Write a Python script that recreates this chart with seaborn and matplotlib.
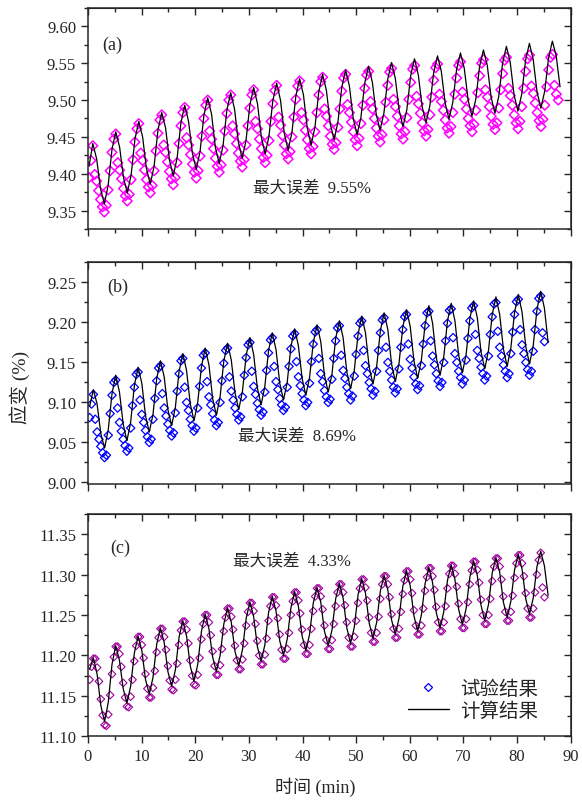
import numpy as np
import matplotlib
matplotlib.use("Agg")
import matplotlib.pyplot as plt
from matplotlib.lines import Line2D
from matplotlib.ticker import MultipleLocator, FormatStrFormatter
import seaborn as sns

# ---- datos (tiempo en min, deformacion en %) ----
# muestreo uniforme: t = t0 + paso * i
a_line_t0, a_line_dt = 0.186, 0.714
a_pts_t0, a_pts_dt = 0.186, 0.3571
bc_line_t0, bc_line_dt = 0.305, 0.695
bc_pts_t0, bc_pts_dt = 0.305, 0.3475

# (a) calculo
a_calc = [9.410,
    9.441, 9.420, 9.380, 9.359, 9.384, 9.433,
    9.457, 9.436, 9.395, 9.374, 9.398, 9.447,
    9.471, 9.450, 9.407, 9.386, 9.410, 9.459,
    9.483, 9.462, 9.419, 9.397, 9.421, 9.469,
    9.493, 9.471, 9.428, 9.406, 9.430, 9.479,
    9.503, 9.481, 9.436, 9.414, 9.438, 9.486,
    9.510, 9.488, 9.443, 9.421, 9.445, 9.493,
    9.517, 9.495, 9.450, 9.427, 9.451, 9.499,
    9.523, 9.500, 9.455, 9.432, 9.456, 9.505,
    9.529, 9.507, 9.462, 9.439, 9.463, 9.511,
    9.535, 9.513, 9.468, 9.446, 9.470, 9.517,
    9.541, 9.519, 9.475, 9.453, 9.476, 9.523,
    9.546, 9.524, 9.481, 9.459, 9.482, 9.528,
    9.551, 9.529, 9.486, 9.464, 9.487, 9.533,
    9.556, 9.534, 9.491, 9.469, 9.492, 9.537,
    9.560, 9.539, 9.496, 9.474, 9.497, 9.542,
    9.564, 9.543, 9.500, 9.478, 9.501, 9.546,
    9.568, 9.547, 9.504, 9.482, 9.505, 9.550,
    9.573, 9.551, 9.507, 9.485, 9.508, 9.554,
    9.577, 9.555, 9.511, 9.489, 9.512, 9.557,
    9.580, 9.560, 9.518]

# (a) ensayo
a_test = [9.395, 9.418,
    9.438, 9.399, 9.390, 9.377, 9.365, 9.355, 9.348, 9.357, 9.378, 9.404, 9.429, 9.447,
    9.454, 9.415, 9.405, 9.393, 9.380, 9.370, 9.363, 9.372, 9.392, 9.419, 9.443, 9.461,
    9.468, 9.428, 9.418, 9.405, 9.392, 9.382, 9.374, 9.384, 9.404, 9.431, 9.455, 9.473,
    9.480, 9.439, 9.429, 9.416, 9.403, 9.393, 9.385, 9.395, 9.415, 9.441, 9.465, 9.483,
    9.490, 9.449, 9.439, 9.426, 9.413, 9.402, 9.394, 9.404, 9.424, 9.451, 9.475, 9.493,
    9.500, 9.458, 9.447, 9.434, 9.421, 9.410, 9.402, 9.412, 9.432, 9.458, 9.482, 9.500,
    9.507, 9.465, 9.454, 9.441, 9.428, 9.417, 9.409, 9.419, 9.439, 9.465, 9.489, 9.507,
    9.514, 9.471, 9.461, 9.447, 9.434, 9.422, 9.415, 9.425, 9.445, 9.471, 9.495, 9.513,
    9.520, 9.477, 9.466, 9.452, 9.439, 9.427, 9.420, 9.430, 9.450, 9.477, 9.501, 9.519,
    9.526, 9.483, 9.473, 9.459, 9.446, 9.434, 9.427, 9.437, 9.457, 9.483, 9.507, 9.525,
    9.531, 9.488, 9.478, 9.465, 9.451, 9.440, 9.433, 9.442, 9.463, 9.488, 9.512, 9.530,
    9.535, 9.494, 9.483, 9.470, 9.457, 9.446, 9.438, 9.448, 9.468, 9.493, 9.516, 9.534,
    9.539, 9.498, 9.488, 9.475, 9.462, 9.451, 9.443, 9.453, 9.473, 9.497, 9.520, 9.538,
    9.543, 9.501, 9.491, 9.478, 9.465, 9.454, 9.447, 9.457, 9.476, 9.501, 9.524, 9.542,
    9.547, 9.505, 9.495, 9.482, 9.469, 9.458, 9.451, 9.460, 9.480, 9.504, 9.527, 9.544,
    9.549, 9.508, 9.498, 9.486, 9.473, 9.462, 9.455, 9.464, 9.483, 9.508, 9.530, 9.547,
    9.552, 9.511, 9.501, 9.488, 9.475, 9.465, 9.457, 9.467, 9.486, 9.510, 9.533, 9.550,
    9.555, 9.514, 9.504, 9.491, 9.478, 9.467, 9.460, 9.469, 9.489, 9.514, 9.536, 9.554,
    9.558, 9.516, 9.506, 9.493, 9.480, 9.469, 9.461, 9.471, 9.491, 9.516, 9.539, 9.556,
    9.561, 9.519, 9.509, 9.496, 9.483, 9.472, 9.464, 9.474, 9.493, 9.518, 9.541, 9.558,
    9.562, 9.520, 9.508, 9.500]

# (b) calculo
b_calc = [9.094,
    9.115, 9.097, 9.060, 9.042, 9.065, 9.110,
    9.133, 9.112, 9.072, 9.051, 9.074, 9.120,
    9.143, 9.123, 9.082, 9.062, 9.084, 9.129,
    9.151, 9.131, 9.090, 9.070, 9.093, 9.138,
    9.160, 9.139, 9.097, 9.076, 9.099, 9.144,
    9.167, 9.146, 9.104, 9.083, 9.106, 9.151,
    9.173, 9.152, 9.111, 9.090, 9.113, 9.158,
    9.180, 9.159, 9.117, 9.096, 9.119, 9.164,
    9.186, 9.165, 9.123, 9.102, 9.124, 9.169,
    9.191, 9.170, 9.129, 9.108, 9.130, 9.174,
    9.196, 9.175, 9.133, 9.112, 9.134, 9.179,
    9.201, 9.180, 9.137, 9.116, 9.139, 9.184,
    9.207, 9.186, 9.143, 9.122, 9.144, 9.189,
    9.211, 9.190, 9.147, 9.125, 9.148, 9.193,
    9.215, 9.194, 9.151, 9.129, 9.152, 9.197,
    9.220, 9.198, 9.155, 9.133, 9.156, 9.201,
    9.223, 9.201, 9.158, 9.136, 9.159, 9.204,
    9.226, 9.205, 9.162, 9.141, 9.164, 9.209,
    9.231, 9.209, 9.166, 9.144, 9.167, 9.212,
    9.234, 9.212, 9.169, 9.147, 9.170, 9.215,
    9.238, 9.217, 9.174]

# (b) ensayo
b_test = [9.080, 9.097,
    9.109, 9.078, 9.062, 9.053, 9.044, 9.036, 9.030, 9.033, 9.058, 9.085, 9.108, 9.124,
    9.127, 9.092, 9.074, 9.063, 9.053, 9.045, 9.038, 9.042, 9.067, 9.095, 9.118, 9.134,
    9.137, 9.102, 9.084, 9.074, 9.064, 9.056, 9.049, 9.053, 9.078, 9.104, 9.126, 9.142,
    9.145, 9.110, 9.092, 9.082, 9.072, 9.064, 9.057, 9.061, 9.086, 9.113, 9.135, 9.151,
    9.154, 9.118, 9.099, 9.089, 9.078, 9.070, 9.063, 9.067, 9.092, 9.119, 9.142, 9.158,
    9.161, 9.125, 9.106, 9.096, 9.085, 9.077, 9.070, 9.074, 9.099, 9.126, 9.148, 9.164,
    9.167, 9.131, 9.113, 9.102, 9.092, 9.084, 9.077, 9.081, 9.106, 9.133, 9.155, 9.171,
    9.174, 9.138, 9.119, 9.109, 9.098, 9.090, 9.083, 9.087, 9.112, 9.139, 9.161, 9.177,
    9.180, 9.144, 9.125, 9.115, 9.104, 9.096, 9.089, 9.093, 9.118, 9.144, 9.166, 9.182,
    9.185, 9.150, 9.131, 9.120, 9.110, 9.102, 9.095, 9.099, 9.123, 9.150, 9.172, 9.187,
    9.190, 9.154, 9.135, 9.125, 9.114, 9.106, 9.099, 9.103, 9.128, 9.154, 9.176, 9.192,
    9.195, 9.158, 9.139, 9.129, 9.118, 9.110, 9.102, 9.107, 9.132, 9.159, 9.182, 9.198,
    9.201, 9.164, 9.145, 9.135, 9.124, 9.116, 9.108, 9.113, 9.138, 9.164, 9.186, 9.202,
    9.205, 9.168, 9.149, 9.138, 9.127, 9.118, 9.111, 9.116, 9.141, 9.168, 9.190, 9.206,
    9.209, 9.172, 9.153, 9.142, 9.131, 9.122, 9.115, 9.120, 9.145, 9.172, 9.195, 9.211,
    9.213, 9.176, 9.157, 9.146, 9.135, 9.126, 9.119, 9.124, 9.149, 9.176, 9.198, 9.214,
    9.216, 9.180, 9.160, 9.149, 9.138, 9.130, 9.122, 9.127, 9.152, 9.179, 9.201, 9.217,
    9.220, 9.184, 9.164, 9.154, 9.143, 9.135, 9.127, 9.132, 9.157, 9.184, 9.206, 9.222,
    9.224, 9.188, 9.168, 9.157, 9.146, 9.138, 9.130, 9.135, 9.160, 9.187, 9.209, 9.225,
    9.228, 9.190, 9.171, 9.160, 9.149, 9.140, 9.133, 9.138, 9.163, 9.190, 9.213, 9.229,
    9.232, 9.186, 9.175]

# (c) calculo
c_calc = [11.183,
    11.197, 11.177, 11.138, 11.118, 11.142, 11.189,
    11.212, 11.194, 11.159, 11.141, 11.162, 11.203,
    11.224, 11.206, 11.170, 11.152, 11.173, 11.214,
    11.234, 11.216, 11.180, 11.162, 11.182, 11.223,
    11.243, 11.224, 11.187, 11.168, 11.189, 11.230,
    11.251, 11.233, 11.198, 11.180, 11.200, 11.239,
    11.259, 11.241, 11.205, 11.187, 11.207, 11.246,
    11.266, 11.248, 11.211, 11.193, 11.213, 11.253,
    11.273, 11.255, 11.218, 11.200, 11.220, 11.259,
    11.279, 11.261, 11.224, 11.206, 11.226, 11.265,
    11.284, 11.266, 11.230, 11.212, 11.231, 11.270,
    11.289, 11.271, 11.234, 11.215, 11.235, 11.275,
    11.295, 11.277, 11.240, 11.221, 11.241, 11.280,
    11.299, 11.281, 11.244, 11.226, 11.246, 11.285,
    11.305, 11.286, 11.249, 11.230, 11.250, 11.289,
    11.309, 11.290, 11.253, 11.234, 11.254, 11.293,
    11.312, 11.294, 11.257, 11.238, 11.258, 11.297,
    11.317, 11.299, 11.262, 11.243, 11.263, 11.302,
    11.321, 11.303, 11.266, 11.247, 11.267, 11.306,
    11.325, 11.307, 11.270, 11.251, 11.271, 11.310,
    11.329, 11.311, 11.274]

# (c) ensayo
c_test = [11.170, 11.186,
    11.196, 11.196, 11.185, 11.168, 11.146, 11.126, 11.114, 11.113, 11.127, 11.151, 11.177, 11.198,
    11.211, 11.211, 11.202, 11.186, 11.166, 11.148, 11.137, 11.136, 11.149, 11.170, 11.193, 11.212,
    11.223, 11.223, 11.213, 11.197, 11.177, 11.159, 11.148, 11.148, 11.160, 11.181, 11.204, 11.222,
    11.233, 11.233, 11.223, 11.207, 11.187, 11.169, 11.158, 11.157, 11.170, 11.190, 11.213, 11.231,
    11.242, 11.242, 11.232, 11.215, 11.194, 11.175, 11.164, 11.163, 11.176, 11.197, 11.220, 11.239,
    11.250, 11.250, 11.241, 11.225, 11.205, 11.187, 11.176, 11.176, 11.188, 11.208, 11.230, 11.247,
    11.258, 11.258, 11.248, 11.232, 11.212, 11.194, 11.183, 11.183, 11.195, 11.215, 11.237, 11.254,
    11.265, 11.265, 11.255, 11.239, 11.218, 11.200, 11.189, 11.189, 11.201, 11.221, 11.243, 11.261,
    11.272, 11.272, 11.262, 11.246, 11.226, 11.207, 11.196, 11.196, 11.208, 11.228, 11.250, 11.267,
    11.278, 11.278, 11.268, 11.252, 11.232, 11.213, 11.202, 11.202, 11.213, 11.233, 11.255, 11.273,
    11.283, 11.283, 11.273, 11.257, 11.237, 11.219, 11.208, 11.208, 11.219, 11.239, 11.261, 11.278,
    11.288, 11.288, 11.278, 11.262, 11.241, 11.222, 11.211, 11.211, 11.223, 11.243, 11.265, 11.283,
    11.294, 11.294, 11.284, 11.268, 11.247, 11.228, 11.217, 11.217, 11.228, 11.248, 11.270, 11.288,
    11.298, 11.298, 11.288, 11.272, 11.251, 11.233, 11.222, 11.222, 11.233, 11.254, 11.276, 11.293,
    11.304, 11.304, 11.294, 11.277, 11.256, 11.237, 11.226, 11.226, 11.237, 11.258, 11.280, 11.297,
    11.308, 11.308, 11.298, 11.281, 11.260, 11.241, 11.230, 11.230, 11.241, 11.261, 11.283, 11.301,
    11.311, 11.311, 11.301, 11.285, 11.264, 11.245, 11.234, 11.234, 11.245, 11.266, 11.288, 11.305,
    11.316, 11.316, 11.306, 11.290, 11.269, 11.250, 11.239, 11.239, 11.250, 11.270, 11.292, 11.310,
    11.320, 11.320, 11.310, 11.294, 11.273, 11.254, 11.243, 11.243, 11.254, 11.274, 11.296, 11.314,
    11.324, 11.324, 11.314, 11.298, 11.277, 11.258, 11.247, 11.247, 11.258, 11.278, 11.300, 11.318,
    11.327, 11.284, 11.272]

panel_labels = ['(a)', '(b)', '(c)']
max_err = ['9.55%', '8.69%', '4.33%']
legend_labels = ['试验结果', '计算结果']


def tiempos(vals, t0, dt):
    return t0 + dt * np.arange(len(vals))


def dibujar_panel(ax, tc, yc, tp, yp, color, ylim, msize, mlw):
    sns.scatterplot(x=tp, y=yp, ax=ax, marker='D', s=msize, color=color,
                    legend=False, zorder=2)
    pts = ax.collections[-1]
    pts.set_facecolor('none')
    pts.set_edgecolor(color)
    pts.set_linewidth(mlw)
    sns.lineplot(x=tc, y=yc, ax=ax, color='black', lw=0.9, estimator=None,
                 sort=False, legend=False, zorder=3)

    ax.set_xlim(0, 90)
    ax.set_ylim(*ylim)
    ax.set_xlabel('')
    ax.set_ylabel('')
    ax.xaxis.set_major_locator(MultipleLocator(10))
    ax.xaxis.set_minor_locator(MultipleLocator(5))
    ax.yaxis.set_major_locator(MultipleLocator(0.05))
    ax.yaxis.set_minor_locator(MultipleLocator(0.025))
    ax.yaxis.set_major_formatter(FormatStrFormatter('%.2f'))
    ax.tick_params(which='both', direction='out', width=1, labelsize=12)
    ax.tick_params(which='major', length=5)
    ax.tick_params(which='minor', length=3)
    for s in ax.spines.values():
        s.set_linewidth(1.1)

    # ticks hacia dentro arriba y a la derecha
    top = ax.secondary_xaxis('top')
    top.xaxis.set_major_locator(MultipleLocator(10))
    top.xaxis.set_minor_locator(MultipleLocator(5))
    top.tick_params(which='both', direction='in', labeltop=False, width=1)
    top.tick_params(which='major', length=5)
    top.tick_params(which='minor', length=3)
    right = ax.secondary_yaxis('right')
    right.yaxis.set_major_locator(MultipleLocator(0.05))
    right.yaxis.set_minor_locator(MultipleLocator(0.025))
    right.tick_params(which='both', direction='in', labelright=False, width=1)
    right.tick_params(which='major', length=5)
    right.tick_params(which='minor', length=3)


sns.set_style("ticks")
plt.rcParams['font.family'] = ['Liberation Serif', 'Noto Sans CJK SC']
plt.rcParams['axes.unicode_minus'] = False
plt.rcParams['xtick.direction'] = 'in'
plt.rcParams['ytick.direction'] = 'in'

fig = plt.figure(figsize=(5.82, 8.03), dpi=100)
left, width = 0.1512, 0.8294
ax_a = fig.add_axes([left, 0.7136, width, 0.2752])
ax_b = fig.add_axes([left, 0.3960, width, 0.2769])
ax_c = fig.add_axes([left, 0.0818, width, 0.2769])

dibujar_panel(ax_a, tiempos(a_calc, a_line_t0, a_line_dt), a_calc,
              tiempos(a_test, a_pts_t0, a_pts_dt), a_test,
              '#FF00FF', (9.325, 9.625), 24, 1.1)
dibujar_panel(ax_b, tiempos(b_calc, bc_line_t0, bc_line_dt), b_calc,
              tiempos(b_test, bc_pts_t0, bc_pts_dt), b_test,
              '#0000FF', (8.997, 9.275), 18, 0.9)
dibujar_panel(ax_c, tiempos(c_calc, bc_line_t0, bc_line_dt), c_calc,
              tiempos(c_test, bc_pts_t0, bc_pts_dt), c_test,
              '#A000A0', (11.10, 11.375), 15, 0.8)

ax_a.tick_params(labelbottom=False)
ax_b.tick_params(labelbottom=False)

# etiquetas de panel y error maximo
for ax, lab, pos in zip([ax_a, ax_b, ax_c], panel_labels,
                        [(0.030, 0.837), (0.039, 0.891), (0.046, 0.852)]):
    ax.text(pos[0], pos[1], lab, transform=ax.transAxes, fontsize=13, va='center')
for ax, err, pos in zip([ax_a, ax_b, ax_c], max_err,
                        [(0.341, 0.19), (0.311, 0.217), (0.301, 0.79)]):
    ax.text(pos[0], pos[1], '最大误差  ' + err, transform=ax.transAxes,
            fontsize=12, va='center')

handles = [Line2D([], [], marker='D', ls='none', mfc='none', mec='#0000FF',
                  ms=3.6, mew=0.9),
           Line2D([], [], color='black', lw=1)]
ax_c.legend(handles, legend_labels, loc='upper left', bbox_to_anchor=(0.663, 0.254),
            frameon=False, fontsize=14, handlelength=2.1, handletextpad=0.6,
            labelspacing=0.15, borderpad=0, borderaxespad=0, numpoints=1)

fig.text(0.033, 0.517, '应变 (%)', rotation=90, fontsize=14, ha='center', va='center')
fig.text(0.541, 0.02, '时间 (min)', fontsize=13, ha='center', va='center')

fig.savefig('out.png', dpi=100)
